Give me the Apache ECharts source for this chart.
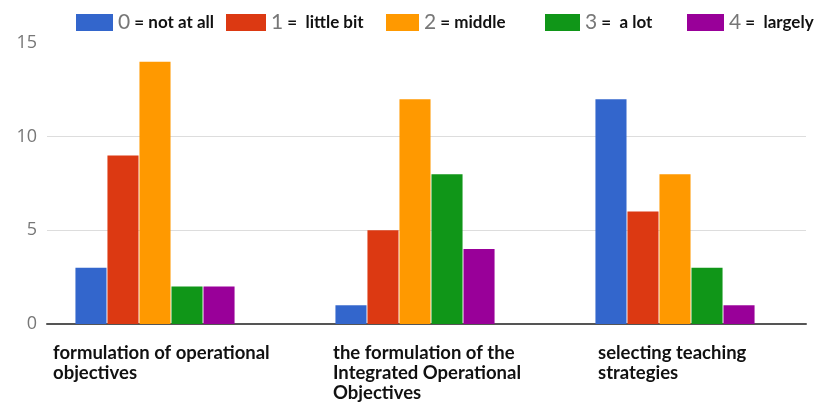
<!DOCTYPE html>
<html><head><meta charset="utf-8">
<script src="https://cdn.jsdelivr.net/npm/echarts@6/dist/echarts.min.js"></script>
<style>html,body{margin:0;padding:0;background:#fff}#c{width:826px;height:405px}</style>
</head><body><div id="c"></div>
<script>
var categories = ["formulation of operational\nobjectives", "the formulation of the\nIntegrated Operational\nObjectives", "selecting teaching\nstrategies"];
var seriesNames = ["0 = not at all", "1 =  little bit", "2 = middle", "3 =  a lot", "4 =  largely"];
var notAtAll = [3, 1, 12];
var littleBit = [9, 5, 6];
var middle = [14, 12, 8];
var aLot = [2, 8, 3];
var largely = [2, 4, 1];
var yTicks = [0, 5, 10, 15];

var colors = ['#3366cc', '#dc3912', '#ff9900', '#109618', '#990099'];
var values = [notAtAll, littleBit, middle, aLot, largely];
var labelPads = [-102, -82, -77];
var legendLefts = [76, 226, 386, 545, 687];
var legendWidths = [37, 40, 33, 35, 37];

var chart = echarts.init(document.getElementById('c'));
chart.setOption({
  animation: false,
  color: colors,
  legend: seriesNames.map(function (n, i) {
    return {
      data: [n], left: legendLefts[i], top: 12, itemWidth: legendWidths[i], itemHeight: 17,
      icon: 'rect', padding: 0,
      formatter: function (s) { return '{a|' + s.charAt(0) + '}{b|' + s.slice(1) + '}'; },
      textStyle: {
        rich: {
          a: { fontFamily: 'Lato', fontSize: 21, color: '#777' },
          b: { fontFamily: 'Lato', fontSize: 17, fontWeight: 'bold', color: '#111' }
        }
      }
    };
  }),
  grid: [
    { left: 25, right: 21, top: 43, bottom: 81 },
    { left: 47, right: 20, top: 43, bottom: 81 }
  ],
  xAxis: [
    {
      type: 'category', gridIndex: 0,
      data: categories.map(function (c, i) { return { value: c, textStyle: { align: 'left', padding: [0, 0, 0, labelPads[i]] } }; }),
      axisLine: { show: false }, axisTick: { show: false },
      axisLabel: { margin: 19, fontFamily: 'Lato', fontWeight: 'bold', fontSize: 18.5, lineHeight: 20, color: '#111', interval: 0 }
    },
    {
      type: 'category', gridIndex: 1, data: categories,
      axisLine: { show: true, lineStyle: { color: '#555', width: 2 } },
      axisTick: { show: false }, axisLabel: { show: false }
    }
  ],
  yAxis: [
    { type: 'value', gridIndex: 0, min: 0, max: 15, interval: 5, show: false },
    {
      type: 'value', gridIndex: 1, min: 0, max: 15, interval: 5,
      axisLabel: { margin: 10, fontFamily: 'Open Sans', fontSize: 18, color: '#777' },
      axisLine: { show: false }, axisTick: { show: false },
      splitLine: { lineStyle: { color: ['#ddd', '#ddd', '#ddd', 'rgba(0,0,0,0)'] } }
    }
  ],
  series: seriesNames.map(function (n, i) {
    return {
      name: n, type: 'bar', xAxisIndex: 0, yAxisIndex: 0,
      data: values[i], barGap: '3%', barCategoryGap: '38.8%'
    };
  })
});
</script></body></html>
